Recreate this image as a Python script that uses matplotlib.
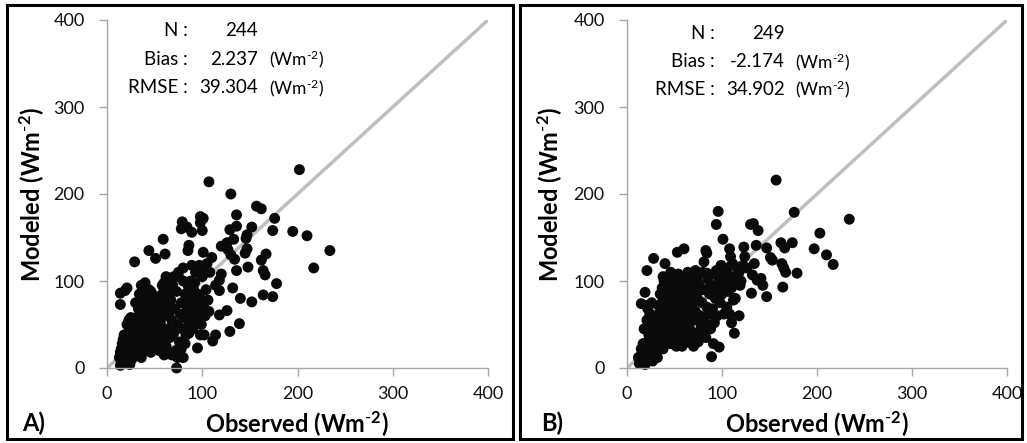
import matplotlib
matplotlib.use("Agg")
import matplotlib.pyplot as plt
from matplotlib.patches import Rectangle

plt.rcParams["font.family"] = ["Lato", "DejaVu Sans"]
plt.rcParams["mathtext.fontset"] = "custom"
plt.rcParams["mathtext.rm"] = "Lato"
plt.rcParams["mathtext.bf"] = "Lato:bold"
plt.rcParams["mathtext.it"] = "Lato:italic"

# ---- data: (observed, modeled) pairs ----------------------------------------
# Panel A, the scattered points outside the dense cluster
a_sparse = [
    (202, 228), (107, 214), (130, 200), (157, 186), (162, 183), (176, 172), (174, 158), (195, 157), (210, 152), (234, 135),
    (217, 115), (178, 97), (174, 82), (164, 84), (152, 76), (140, 80), (139, 51), (129, 42), (114, 38), (111, 31),
    (118, 61), (126, 66), (73, 0), (80, 12), (95, 23), (98, 38), (102, 38), (29, 122), (44, 135), (59, 148),
    (61, 131), (51, 126), (14, 86), (19, 89), (21, 92), (14, 73), (79, 168), (84, 162), (78, 160), (89, 156),
    (86, 141), (85, 135), (98, 174), (101, 172), (98, 167), (100, 158), (110, 127), (101, 133), (129, 159), (136, 176),
    (136, 163), (133, 148), (126, 144), (120, 140), (147, 153), (152, 162), (146, 149), (147, 137), (145, 132), (127, 136),
    (130, 130), (134, 125), (136, 112), (132, 92), (148, 116), (162, 124), (164, 112), (166, 107), (167, 131), (118, 101),
    (120, 108), (118, 89),
]
# Panel A, dense cluster near the origin
a_low = [
    (14, 3), (15, 8), (16, 12), (17, 5), (18, 15), (19, 10), (20, 20), (21, 7), (22, 25), (23, 14),
    (24, 30), (25, 18), (15, 22), (16, 28), (17, 33), (18, 38), (14, 18), (20, 35), (22, 40), (26, 10),
    (28, 22), (27, 38), (29, 45), (30, 30), (19, 26), (13, 12), (24, 4), (26, 45), (21, 50), (23, 55),
    (25, 58), (28, 52),
]
a_mid = [
    (32, 15), (34, 25), (35, 35), (36, 12), (38, 45), (39, 28), (40, 55), (41, 20), (42, 38), (43, 62),
    (44, 30), (45, 48), (46, 18), (47, 70), (48, 40), (49, 58), (50, 25), (51, 80), (52, 45), (53, 35),
    (54, 65), (55, 20), (56, 52), (57, 75), (58, 30), (59, 42), (60, 60), (31, 58), (33, 68), (35, 75),
    (37, 62), (39, 80), (41, 72), (42, 85), (44, 78), (46, 88), (48, 84), (50, 70), (52, 62), (54, 50),
    (56, 40), (58, 85), (60, 15), (36, 50), (38, 22), (40, 40), (43, 50), (45, 60), (47, 28), (49, 35),
    (51, 52), (53, 22), (55, 58), (57, 45), (59, 68), (33, 40), (35, 18), (37, 32), (40, 65), (44, 42),
    (48, 22), (52, 30), (56, 68), (46, 32), (50, 48), (54, 38), (42, 55), (38, 55), (32, 48), (30, 75),
    (34, 85), (36, 95), (40, 98), (44, 90), (58, 95), (60, 98), (62, 105),
]
a_right = [
    (62, 25), (64, 45), (65, 60), (66, 35), (67, 78), (68, 55), (69, 95), (70, 40), (71, 68), (72, 20),
    (73, 88), (74, 50), (75, 105), (76, 30), (77, 62), (78, 75), (79, 45), (80, 100), (81, 58), (82, 85),
    (83, 38), (84, 70), (85, 95), (86, 52), (87, 65), (88, 80), (89, 118), (90, 60), (91, 90), (92, 72),
    (93, 110), (94, 55), (95, 85), (96, 65), (97, 118), (98, 80), (99, 50), (100, 105), (101, 72), (102, 115),
    (103, 60), (104, 90), (105, 120), (106, 78), (107, 65), (108, 110), (114, 95), (70, 105), (66, 100), (64, 90),
    (63, 70), (68, 15), (74, 12), (78, 22), (82, 28), (86, 40), (90, 45), (75, 110), (80, 115), (88, 100),
    (92, 98), (62, 88), (65, 80),
]

# Panel B
b_sparse = [
    (157, 216), (96, 180), (94, 165), (176, 179), (234, 171), (203, 155), (197, 137), (210, 130), (217, 119), (179, 109),
    (174, 144), (162, 144), (166, 138), (164, 93), (147, 82), (147, 138), (151, 127), (153, 124), (163, 120), (165, 115),
    (167, 110), (130, 165), (133, 166), (138, 158), (136, 141), (123, 139), (108, 137), (101, 148), (134, 120), (132, 107),
    (137, 101), (141, 103), (143, 95), (131, 86), (119, 95), (109, 128), (111, 120), (116, 116), (112, 78), (110, 52),
    (113, 40), (105, 66), (108, 62), (118, 60), (89, 13), (97, 24), (91, 28), (28, 126), (40, 120), (21, 112),
    (19, 87), (53, 133), (60, 137), (15, 74), (19, 45), (83, 135), (84, 132), (81, 122), (77, 109), (84, 109),
    (72, 112), (74, 86),
]
b_low = [
    (13, 5), (14, 10), (15, 15), (16, 8), (17, 20), (18, 12), (19, 25), (20, 6), (21, 18), (22, 30),
    (23, 10), (24, 22), (25, 15), (26, 35), (27, 8), (28, 28), (29, 18), (30, 40), (15, 22), (17, 28),
    (12, 12), (19, 4), (23, 38), (25, 45), (27, 50), (21, 55), (24, 62), (22, 68), (20, 72), (26, 75),
    (28, 60), (18, 45),
]
b_mid = [
    (31, 20), (32, 32), (33, 45), (34, 25), (35, 55), (36, 38), (37, 65), (38, 22), (39, 48), (40, 75),
    (41, 30), (42, 58), (43, 85), (44, 40), (45, 68), (46, 28), (47, 92), (48, 50), (49, 62), (50, 35),
    (51, 78), (52, 45), (53, 100), (54, 55), (55, 30), (56, 70), (57, 42), (58, 88), (59, 60), (60, 50),
    (61, 105), (62, 38), (63, 75), (64, 58), (65, 95), (31, 60), (33, 72), (35, 85), (37, 92), (39, 100),
    (41, 90), (43, 65), (45, 50), (47, 40), (49, 75), (51, 58), (53, 68), (55, 80), (57, 60), (59, 35),
    (61, 72), (63, 48), (65, 65), (34, 50), (36, 70), (38, 80), (40, 58), (42, 45), (44, 95), (46, 80),
    (48, 70), (50, 88), (52, 25), (54, 40), (56, 50), (58, 25), (60, 82), (62, 92), (64, 30), (36, 28),
    (40, 35), (44, 55), (48, 32), (52, 85), (56, 95), (60, 65), (38, 105), (42, 102), (46, 110), (50, 105),
    (54, 108),
]
b_right = [
    (66, 45), (67, 72), (68, 35), (69, 88), (70, 55), (71, 100), (72, 65), (73, 40), (74, 80), (75, 30),
    (76, 95), (77, 60), (78, 48), (79, 75), (80, 110), (81, 55), (82, 90), (83, 35), (84, 70), (85, 102),
    (86, 62), (87, 85), (88, 45), (89, 95), (90, 68), (91, 108), (92, 52), (93, 80), (94, 112), (95, 60),
    (96, 90), (97, 100), (98, 75), (99, 118), (100, 85), (101, 105), (102, 62), (103, 95), (104, 110), (105, 70),
    (106, 115), (107, 88), (108, 100), (110, 92), (112, 105), (114, 80), (116, 98), (118, 110), (120, 100), (122, 118),
    (124, 128), (126, 115), (70, 25), (72, 30), (76, 38), (80, 42), (84, 50), (68, 105), (74, 100), (78, 90),
    (64, 110), (30, 50), (32, 12), (34, 62), (36, 45), (38, 60), (45, 35), (47, 55), (49, 45), (55, 45),
    (58, 70), (62, 60), (66, 80), (70, 75),
]

stats_a = ["244", "2.237", "39.304"]
stats_b = ["249", "-2.174", "34.902"]
stat_names = ["N :", "Bias :", "RMSE :"]
ticks = [0, 100, 200, 300, 400]

W, H = 1027, 443
GRAY = "#a6a6a6"
UNIT = r"(Wm$^{\text{-}2}$)"
UNIT_BOLD = r"(Wm$^{\mathbf{\text{-}2}}$)"


def draw_panel(ax, pts, stats, name_x, val_x, unit_x, rows_y):
    obs = [p[0] for p in pts]
    mod = [p[1] for p in pts]
    ax.plot([0, 400], [0, 400], color="#bfbfbf", lw=2.5, zorder=1, solid_capstyle="butt")
    ax.scatter(obs, mod, s=62, color="#0a0a0a", edgecolors="none", zorder=2, clip_on=False)
    ax.set_xlim(0, 400)
    ax.set_ylim(0, 400)
    ax.set_xticks(ticks)
    ax.set_yticks(ticks)
    for side in ["top", "right"]:
        ax.spines[side].set_visible(False)
    for side in ["left", "bottom"]:
        ax.spines[side].set_color(GRAY)
        ax.spines[side].set_linewidth(1.0)
    ax.tick_params(length=6, width=1, color=GRAY, labelsize=13, labelcolor="#111111")
    ax.tick_params(axis="x", pad=7)
    ax.tick_params(axis="y", pad=10)

    # statistics block
    for i in range(3):
        ax.text(name_x, rows_y[i], stat_names[i], ha="right", va="center", fontsize=13.5)
        ax.text(val_x, rows_y[i], stats[i], ha="right", va="center", fontsize=13.5)
        if i > 0:
            ax.text(unit_x, rows_y[i], UNIT, ha="left", va="center", fontsize=12.5)


fig = plt.figure(figsize=(W / 100, H / 100), dpi=100)

ax_a = fig.add_axes([107 / W, 75 / H, 381 / W, 348 / H])
ax_b = fig.add_axes([627 / W, 75 / H, 380 / W, 348 / H])

draw_panel(ax_a, a_sparse + a_low + a_mid + a_right, stats_a, 85, 158, 170, [388, 355, 322])
draw_panel(ax_b, b_sparse + b_low + b_mid + b_right, stats_b, 92, 166, 177, [385, 352, 320])

# axis titles and panel tags
for cx_y, cx_x, tag_x, tag in [(32, 297, 22, "A)"), (550, 817, 541, "B)")]:
    fig.text(cx_y / W, 1 - 195 / H, "Modeled " + UNIT_BOLD, rotation=90,
             ha="center", va="center", fontsize=17, fontweight="bold")
    fig.text(cx_x / W, 1 - 424 / H, "Observed " + UNIT_BOLD,
             ha="center", va="center", fontsize=17, fontweight="bold")
    fig.text(tag_x / W, 1 - 423 / H, tag, ha="left", va="center", fontsize=17, fontweight="bold")

# black frames around each panel
for x0, x1 in [(7, 513), (520, 1022)]:
    fig.patches.append(Rectangle((x0 / W, 4 / H), (x1 - x0) / W, 434 / H,
                                 transform=fig.transFigure, fill=False, lw=2.2, ec="black"))

fig.savefig("out.png", dpi=100)
